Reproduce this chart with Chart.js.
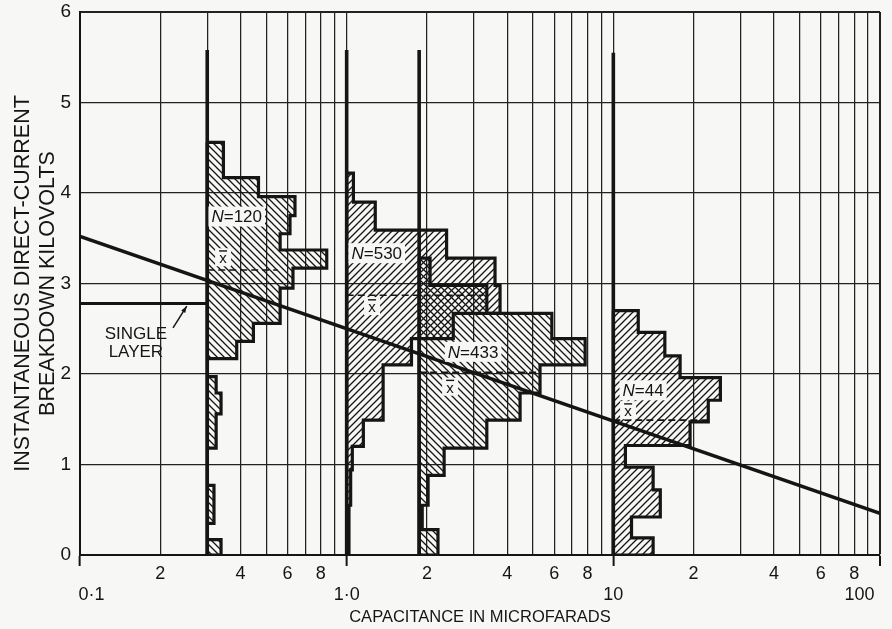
<!DOCTYPE html>
<html><head><meta charset="utf-8">
<script src="https://cdn.jsdelivr.net/npm/chart.js@4/dist/chart.umd.min.js"></script>
<style>html,body{margin:0;padding:0;background:#f7f7f5;}canvas{display:block;}</style>
</head><body>
<canvas id="c" width="892" height="629"></canvas>
<script>
// ---------- axis ticks ----------
const xTicks = [0.1,0.2,0.3,0.4,0.5,0.6,0.7,0.8,0.9,1,2,3,4,5,6,7,8,9,10,20,30,40,50,60,70,80,90,100];
const xDecadeLabels = ['0·1','1·0','10','100'];
const xMinorLabels = ['2','4','6','8'];
const yTicks = [0,1,2,3,4,5,6];

// ---------- histograms (class edges in kV, top to bottom; right edge of each class in µF) ----------
const histN = [120, 530, 433, 44];
const histBaselines = [0.3, 1.0, 1.87, 10];
const baselineTop = [5.58, 5.58, 5.58, 5.55];

const edges120 = [4.56,4.17,3.96,3.75,3.55,3.37,3.17,2.95,2.76,2.56,2.36,2.17,1.97,1.79,1.56,1.18,0.77,0.35,0.17,0];
const right120 = [0.345,0.467,0.64,0.613,0.563,0.842,0.629,0.563,0.563,0.447,0.387,0.3,0.324,0.338,0.324,0.3,0.318,0.3,0.338];

const edges530 = [4.22,3.9,3.59,3.28,2.98,2.67,2.39,2.10,1.49,1.20,0.94,0.55,0];
const right530 = [1.06,1.28,2.37,3.60,3.76,2.51,1.75,1.37,1.155,1.05,1.035,1.02];

const edges433 = [3.28,2.98,2.67,2.39,2.10,1.79,1.49,1.18,0.88,0.55,0.28,0];
const right433 = [2.055,3.354,5.88,7.84,5.31,4.47,3.354,2.32,2.02,1.92,2.20];

const edges44 = [2.70,2.46,2.20,1.96,1.71,1.47,1.21,0.97,0.72,0.42,0.19,0];
const right44 = [12.4,15.6,17.8,25.2,22.7,19.4,11.1,14.1,15.0,11.7,14.1];

// mean (x-bar) of each histogram and the extent of its dashed line
const histMeans = [3.15, 2.87, 2.02, 1.49];
const meanLineEnds = [0.55, 3.25, 5.3, 22.5];

// ---------- lines ----------
const trendX = [0.1, 100];
const trendY = [3.52, 0.46];
const singleLayerX = [0.1, 0.3];
const singleLayerY = 2.78;

// ---------- annotation anchors (data units) ----------
const nLabelAt = [[0.387,3.74],[1.297,3.335],[2.98,2.245],[12.93,1.82]];
const meanLabelAt = [[0.344,3.29],[1.245,2.75],[2.443,1.86],[11.36,1.60]];
const singleLabelAt = [0.162, 2.44, 2.24];
const arrowFrom = [0.2233, 2.51];
const arrowTo = [0.2513, 2.75];

// ---------- styling ----------
const INK = '#151515';
const BG = '#f7f7f5';
const FONT = '"Liberation Sans", Arial, sans-serif';
Chart.defaults.font.family = FONT;
Chart.defaults.color = INK;

function hatch(dir) {
  const s = 7;
  const c = document.createElement('canvas');
  c.width = s; c.height = s;
  const g = c.getContext('2d');
  g.strokeStyle = INK; g.lineWidth = 1.3;
  g.beginPath();
  if (dir === 'back') {
    g.moveTo(-1,-1); g.lineTo(s+1,s+1);
    g.moveTo(-1,s-1); g.lineTo(1,s+1);
    g.moveTo(s-1,-1); g.lineTo(s+1,1);
  } else {
    g.moveTo(-1,s+1); g.lineTo(s+1,-1);
    g.moveTo(-1,1); g.lineTo(1,-1);
    g.moveTo(s-1,s+1); g.lineTo(s+1,s-1);
  }
  g.stroke();
  return g.createPattern(c, 'repeat');
}

function histPolygon(base, edges, rights) {
  const pts = [{x: base, y: edges[0]}];
  for (let i = 0; i < rights.length; i++) {
    pts.push({x: rights[i], y: edges[i]});
    pts.push({x: rights[i], y: edges[i+1]});
  }
  pts.push({x: base, y: edges[edges.length-1]});
  pts.push({x: base, y: edges[0]});
  return pts;
}

const hists = [
  {edges: edges120, rights: right120, dir: 'back'},
  {edges: edges530, rights: right530, dir: 'fwd'},
  {edges: edges433, rights: right433, dir: 'back'},
  {edges: edges44, rights: right44, dir: 'fwd'}
];

const datasets = [];
hists.forEach((h, i) => {
  datasets.push({
    data: histPolygon(histBaselines[i], h.edges, h.rights),
    borderColor: INK, borderWidth: 3.2, backgroundColor: hatch(h.dir),
    fill: 'shape', pointRadius: 0, order: 10, borderJoinStyle: 'miter'
  });
});
histBaselines.forEach((b, i) => {
  datasets.push({data: [{x: b, y: 0}, {x: b, y: baselineTop[i]}], borderColor: INK, borderWidth: 3.6, pointRadius: 0, fill: false, order: 2});
});
histMeans.forEach((m, i) => {
  datasets.push({data: [{x: histBaselines[i], y: m}, {x: meanLineEnds[i], y: m}], borderColor: INK, borderWidth: 1.6, borderDash: [7, 4], pointRadius: 0, fill: false, order: 1});
});
datasets.push({data: trendX.map((v, i) => ({x: v, y: trendY[i]})), borderColor: INK, borderWidth: 3.5, pointRadius: 0, fill: false, order: 0});
datasets.push({data: singleLayerX.map(v => ({x: v, y: singleLayerY})), borderColor: INK, borderWidth: 3, pointRadius: 0, fill: false, order: 0});

const isDecade = v => Math.abs(Math.log10(v) - Math.round(Math.log10(v))) < 1e-6;

function xLabel(v) {
  if (isDecade(v)) {
    const k = Math.round(Math.log10(v)) + 1;
    let t = xDecadeLabels[k];
    if (k === 0) t = '\u2003 ' + t;
    if (k === 3) t = t + '\u2003\u2003 ';
    return ['', t];
  }
  const m = Math.round(v / Math.pow(10, Math.floor(Math.log10(v) + 1e-9)));
  return xMinorLabels.indexOf(String(m)) >= 0 ? String(m) : '';
}

const bgPlugin = {
  id: 'bg',
  beforeDraw(chart) {
    const c = chart.ctx;
    c.save(); c.fillStyle = BG; c.fillRect(0, 0, chart.width, chart.height); c.restore();
  }
};

const annotPlugin = {
  id: 'annot',
  afterDatasetsDraw(chart) {
    const {ctx, scales: {x, y}} = chart;
    ctx.save();
    ctx.textBaseline = 'middle';
    histN.forEach((n, i) => {
      const px = x.getPixelForValue(nLabelAt[i][0]);
      const py = y.getPixelForValue(nLabelAt[i][1]);
      ctx.font = 'italic 17px ' + FONT;
      const wN = ctx.measureText('N').width;
      ctx.font = '17px ' + FONT;
      const rest = '=' + n;
      const wR = ctx.measureText(rest).width;
      const w = wN + wR;
      ctx.fillStyle = BG;
      ctx.fillRect(px - w / 2 - 3, py - 10, w + 6, 20);
      ctx.fillStyle = INK;
      ctx.textAlign = 'left';
      ctx.font = 'italic 17px ' + FONT;
      ctx.fillText('N', px - w / 2, py + 1);
      ctx.font = '17px ' + FONT;
      ctx.fillText(rest, px - w / 2 + wN, py + 1);
    });
    meanLabelAt.forEach(p => {
      const px = x.getPixelForValue(p[0]);
      const py = y.getPixelForValue(p[1]);
      ctx.fillStyle = BG;
      ctx.fillRect(px - 8, py - 9, 16, 18);
      ctx.fillStyle = INK;
      ctx.font = '15px ' + FONT;
      ctx.textAlign = 'center';
      ctx.fillText('x', px, py + 2);
      ctx.fillRect(px - 4, py - 7, 8, 1.4);
    });
    ctx.font = '17px ' + FONT;
    ctx.textAlign = 'center';
    const sx = x.getPixelForValue(singleLabelAt[0]);
    ctx.fillText('SINGLE', sx, y.getPixelForValue(singleLabelAt[1]));
    ctx.fillText('LAYER', sx, y.getPixelForValue(singleLabelAt[2]));
    const ax0 = x.getPixelForValue(arrowFrom[0]), ay0 = y.getPixelForValue(arrowFrom[1]);
    const ax1 = x.getPixelForValue(arrowTo[0]), ay1 = y.getPixelForValue(arrowTo[1]);
    ctx.strokeStyle = INK; ctx.lineWidth = 1.5;
    ctx.beginPath(); ctx.moveTo(ax0, ay0); ctx.lineTo(ax1, ay1); ctx.stroke();
    const ang = Math.atan2(ay1 - ay0, ax1 - ax0);
    ctx.beginPath();
    ctx.moveTo(ax1, ay1);
    ctx.lineTo(ax1 - 7 * Math.cos(ang - 0.35), ay1 - 7 * Math.sin(ang - 0.35));
    ctx.lineTo(ax1 - 7 * Math.cos(ang + 0.35), ay1 - 7 * Math.sin(ang + 0.35));
    ctx.closePath(); ctx.fillStyle = INK; ctx.fill();
    ctx.restore();
  }
};

new Chart(document.getElementById('c').getContext('2d'), {
  type: 'line',
  data: {datasets},
  options: {
    responsive: false,
    animation: false,
    devicePixelRatio: 1,
    events: [],
    layout: {padding: {top: 12, right: 12, left: 0, bottom: 0}},
    plugins: {legend: {display: false}, tooltip: {enabled: false}},
    elements: {point: {radius: 0}, line: {tension: 0}},
    scales: {
      x: {
        type: 'logarithmic', min: 0.1, max: 100,
        afterBuildTicks: s => { s.ticks = xTicks.map(v => ({value: v})); },
        afterFit: s => { s.height = 74; s.paddingLeft = 0; s.paddingRight = 0; },
        ticks: {
          autoSkip: false, maxRotation: 0, minRotation: 0, padding: -3, color: INK,
          font: {size: 18, lineHeight: 1.2},
          callback: (v) => xLabel(v)
        },
        grid: {
          color: '#222',
          lineWidth: c => (c.tick && (c.tick.value === 100)) ? 2 : 1.25,
          drawTicks: true, tickLength: 11,
          tickColor: c => (c.tick && isDecade(c.tick.value)) ? INK : 'rgba(0,0,0,0)',
          tickWidth: 2
        },
        border: {display: true, color: INK, width: 2},
        title: {display: true, text: 'CAPACITANCE IN MICROFARADS', color: INK, font: {size: 16.5, lineHeight: 1.2}, padding: {top: 0, bottom: 2}}
      },
      y: {
        type: 'linear', min: 0, max: 6,
        afterBuildTicks: s => { s.ticks = yTicks.map(v => ({value: v})); },
        afterFit: s => { s.width = 80; s.paddingTop = 0; s.paddingBottom = 0; },
        ticks: {padding: 9, color: INK, font: {size: 19}, callback: v => String(v)},
        grid: {
          color: '#222', drawTicks: false,
          lineWidth: c => (c.tick && c.tick.value === 6) ? 2 : 1.25
        },
        border: {display: true, color: INK, width: 2},
        title: {
          display: true, color: INK,
          text: ['INSTANTANEOUS DIRECT-CURRENT', 'BREAKDOWN KILOVOLTS'],
          font: {size: 21.5, lineHeight: 1.18}, padding: {top: 10, bottom: 0}
        }
      }
    }
  },
  plugins: [bgPlugin, annotPlugin]
});
</script>
</body></html>
